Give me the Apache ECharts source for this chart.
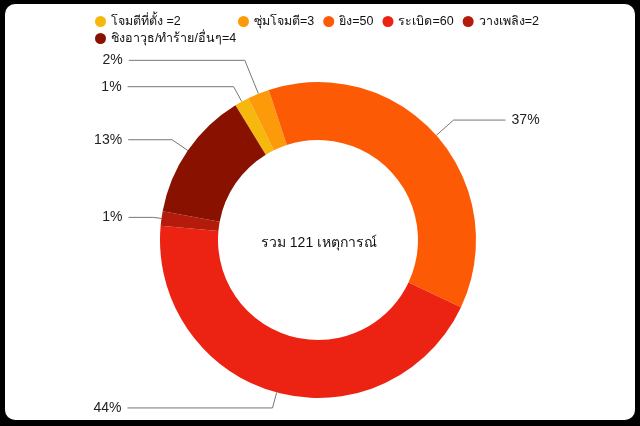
<!DOCTYPE html>
<html>
<head>
<meta charset="utf-8">
<script src="https://cdn.jsdelivr.net/npm/echarts@6/dist/echarts.min.js"></script>
<style>
html,body{margin:0;padding:0;background:#000;}
#chart{width:640px;height:426px;}
</style>
</head>
<body>
<div id="chart"></div>
<script>
// Categories (legend labels as shown) and slice values
var categories = ['โจมตีที่ตั้ง =2', 'ซุ่มโจมตี=3', 'ยิง=50', 'ระเบิด=60', 'วางเพลิง=2', 'ชิงอาวุธ/ทำร้าย/อื่นๆ=4'];
var values = [2, 3, 50, 60, 2, 18];
var colors = ['#F6B80C', '#FD9A0A', '#FD5A06', '#EC2212', '#B41B0A', '#881100'];
var lineLengths = [17, 36, 23, 16, 8, 19];
var lineLengths2 = [106, 116, 52, 145, 25, 44];
var centerText = 'รวม 121 เหตุการณ์';

var font = '"Liberation Sans", "Noto Sans", Arial, sans-serif';

var pieData = categories.map(function (name, i) {
  return {
    name: name,
    value: values[i],
    itemStyle: { color: colors[i] },
    labelLine: { length: lineLengths[i], length2: lineLengths2[i] }
  };
});

var legendCommon = {
  orient: 'horizontal',
  padding: 0,
  icon: 'circle', itemWidth: 11, itemHeight: 11,
  textStyle: { fontSize: 12.5, color: '#111', fontFamily: font },
  selectedMode: false
};

var chart = echarts.init(document.getElementById('chart'), null, { renderer: 'canvas' });
chart.setOption({
  backgroundColor: '#000',
  animation: false,
  graphic: {
    elements: [
      {
        type: 'rect', z: -100, silent: true,
        shape: { x: 5, y: 4, width: 630, height: 416, r: 10 },
        style: { fill: '#fff' }
      },
      {
        type: 'text', z: 100, silent: true,
        x: 319, y: 243,
        style: {
          text: centerText, fill: '#111', font: '14px ' + font,
          textAlign: 'center', textVerticalAlign: 'middle'
        }
      }
    ]
  },
  legend: [
    Object.assign({}, legendCommon, {
      data: [categories[0], categories[5]],
      orient: 'vertical', left: 95, top: 15, itemGap: 4
    }),
    Object.assign({}, legendCommon, {
      data: categories.slice(1, 5),
      left: 238, top: 15, itemGap: 9
    })
  ],
  series: [{
    type: 'pie',
    center: [318, 240],
    radius: [100, 158],
    startAngle: 121.5,
    clockwise: true,
    avoidLabelOverlap: true,
    data: pieData,
    label: {
      show: true,
      position: 'outside',
      distanceToLabelLine: 6,
      fontSize: 14, color: '#222', fontFamily: font,
      formatter: function (p) { return Math.round(p.percent) + '%'; }
    },
    labelLine: {
      show: true, smooth: false,
      lineStyle: { color: '#777', width: 1 }
    },
    emphasis: { disabled: true }
  }]
});
</script>
</body>
</html>
